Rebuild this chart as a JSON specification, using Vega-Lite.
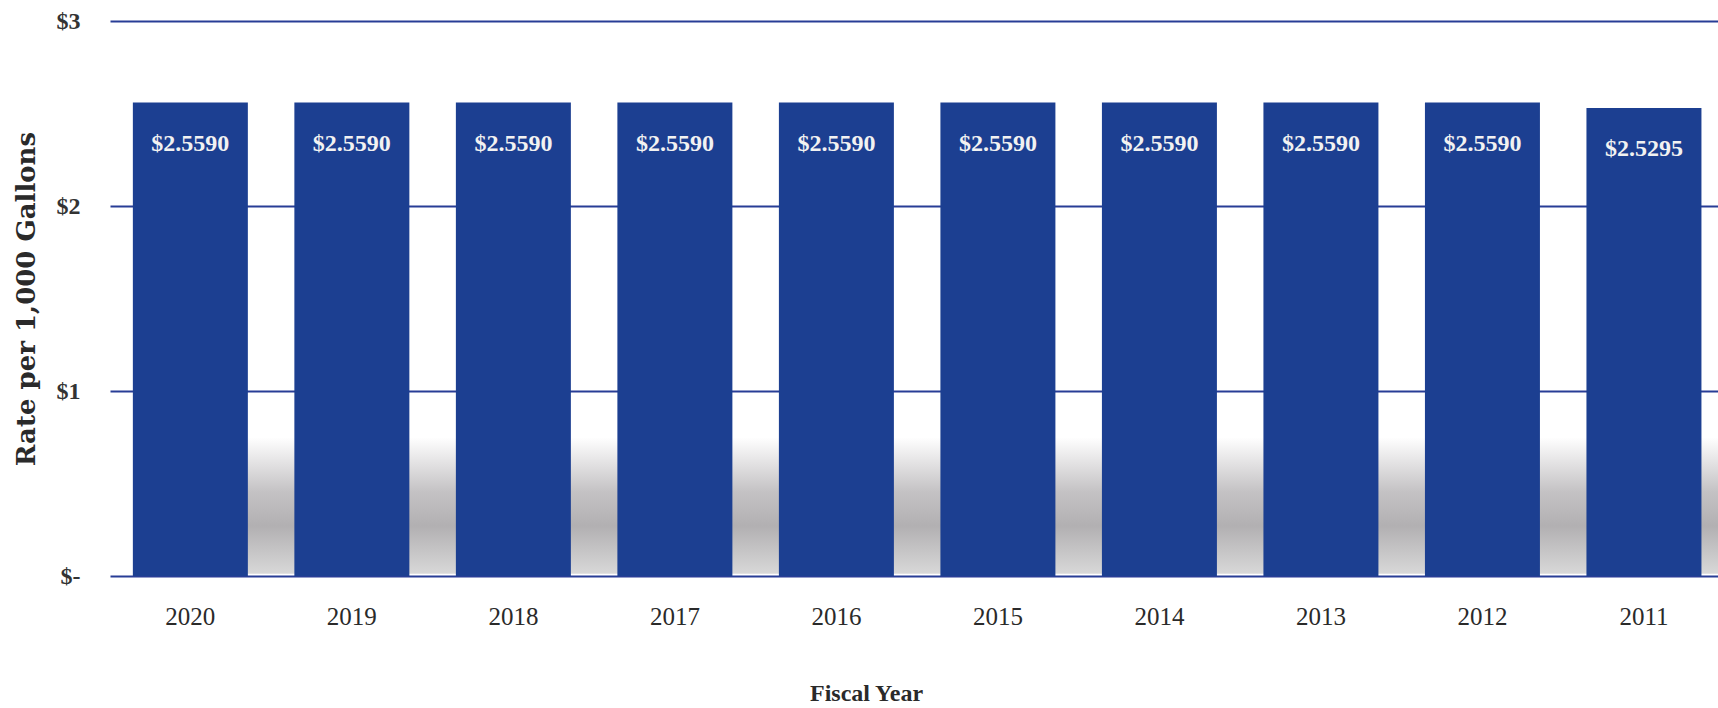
{
  "$schema": "https://vega.github.io/schema/vega-lite/v6.json",
  "width": 1608,
  "height": 555,
  "autosize": {"type": "none"},
  "padding": {"left": 110, "top": 21, "right": 0, "bottom": 132},
  "background": "#ffffff",
  "data": {
    "values": [
      {"year": "2020", "rate": 2.559},
      {"year": "2019", "rate": 2.559},
      {"year": "2018", "rate": 2.559},
      {"year": "2017", "rate": 2.559},
      {"year": "2016", "rate": 2.559},
      {"year": "2015", "rate": 2.559},
      {"year": "2014", "rate": 2.559},
      {"year": "2013", "rate": 2.559},
      {"year": "2012", "rate": 2.559},
      {"year": "2011", "rate": 2.5295}
    ]
  },
  "config": {
    "view": {"stroke": null},
    "axis": {"labelFont": "Liberation Serif", "titleFont": "Liberation Serif"}
  },
  "encoding": {
    "x": {
      "field": "year",
      "type": "ordinal",
      "sort": "descending",
      "scale": {"paddingInner": 0.288, "paddingOuter": 0.122, "align": 0.58},
      "axis": {
        "labelAngle": 0,
        "labelFontSize": 25,
        "labelColor": "#2a2a2a",
        "labelPadding": 28,
        "ticks": false,
        "domain": false,
        "title": "Fiscal Year",
        "titleFont": "Liberation Serif",
        "titleFontSize": 24,
        "titleFontWeight": "bold",
        "titleColor": "#2a2a2a",
        "titleX": 756,
        "titleY": 117,
        "titleBaseline": "middle",
        "titleAlign": "center"
      }
    }
  },
  "layer": [
    {
      "mark": {
        "type": "bar",
        "xOffset": 48,
        "fill": {
          "gradient": "linear",
          "x1": 0, "y1": 0, "x2": 0, "y2": 1,
          "stops": [
            {"offset": 0, "color": "#ffffff"},
            {"offset": 0.4, "color": "#c4c2c4"},
            {"offset": 0.65, "color": "#b2b0b2"},
            {"offset": 1, "color": "#d8d8d8"}
          ]
        }
      },
      "encoding": {
        "y": {"datum": 0.75, "type": "quantitative"},
        "y2": {"datum": 0.012}
      }
    },
    {
      "mark": {"type": "bar", "color": "#1c3f91"},
      "encoding": {
        "y": {
          "field": "rate",
          "type": "quantitative",
          "scale": {"domain": [0, 3], "nice": false},
          "axis": {
            "values": [0, 1, 2, 3],
            "labelExpr": "datum.value == 0 ? '$-' : '$' + datum.value",
            "labelFontSize": 24,
            "labelFontWeight": "bold",
            "labelColor": "#333333",
            "labelPadding": 30,
            "ticks": false,
            "domain": false,
            "grid": true,
            "gridColor": "#283d96",
            "gridWidth": 2,
            "gridOpacity": 1,
            "title": "Rate per 1,000 Gallons",
            "titleFont": "DejaVu Serif",
            "titleFontSize": 26,
            "titleFontWeight": "bold",
            "titleColor": "#2a2a2a",
            "titlePadding": 17
          }
        }
      }
    },
    {
      "mark": {
        "type": "text",
        "baseline": "middle",
        "dy": 41,
        "color": "#f2f2f2",
        "font": "Liberation Serif",
        "fontWeight": "bold",
        "fontSize": 24
      },
      "encoding": {
        "y": {"field": "rate", "type": "quantitative"},
        "text": {"field": "rate", "type": "quantitative", "format": "$.4f"}
      }
    }
  ]
}
